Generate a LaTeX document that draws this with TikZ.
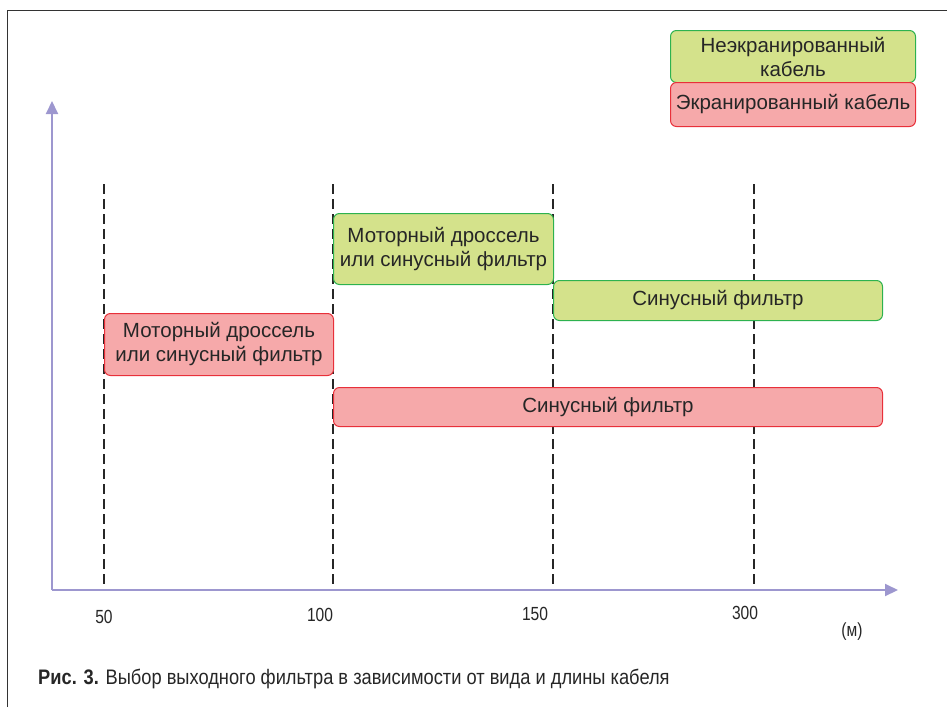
\documentclass[tikz,border=0pt]{standalone}
\usepackage{fontspec}
\setmainfont{Liberation Sans}
\newfontfamily\condfont[FakeStretch=0.87]{Liberation Sans}
\newfontfamily\tickfont[FakeStretch=0.82]{Liberation Sans}
\usetikzlibrary{arrows.meta}
\definecolor{gfill}{HTML}{D4E28B}
\definecolor{gdraw}{HTML}{2DB24F}
\definecolor{rfill}{HTML}{F6A9AA}
\definecolor{rdraw}{HTML}{E8303A}
\definecolor{axiscol}{HTML}{9D97CF}
\definecolor{framecol}{HTML}{333333}
\tikzset{
  box/.style={rounded corners=6pt, line width=1pt, align=center, inner sep=0pt,
    font=\fontsize{20.5}{24}\selectfont, text=black!85},
  gbox/.style={box, fill=gfill, draw=gdraw},
  rbox/.style={box, fill=rfill, draw=rdraw},
  axisline/.style={axiscol, line width=2pt, -{Triangle[length=13pt,width=12pt]}},
  vdash/.style={black!85, line width=2.5pt, dash pattern=on 10pt off 5pt},
  ticklab/.style={font=\tickfont\fontsize{19}{21}\selectfont, text=black!85},
}
\begin{document}
\begin{tikzpicture}[x=1pt,y=-1pt]
\useasboundingbox (0,0) rectangle (947,707);
% frame
\draw[framecol, line width=1.5pt] (7.5,707) -- (7.5,10.5) -- (947,10.5);
% dashed lines
\foreach \xx/\nm in {104/d1,333/d2,553/d3,754/d4}{
  \coordinate (\nm t) at (\xx,184);
  \coordinate (\nm b) at (\xx,590);
  \draw[vdash] (\nm t) -- (\nm b);
}
% axes
\coordinate (o) at (52,590);
\coordinate (ytip) at (52,101);
\coordinate (xtip) at (898,590);
\draw[axisline] (o) -- (ytip);
\draw[axisline] (o) -- (xtip);
% boxes
\node[gbox, minimum width=245pt, minimum height=52pt, anchor=north west] (leg1) at (670,30) {Неэкранированный\\кабель};
\node[rbox, minimum width=245pt, minimum height=44pt, anchor=north west] (leg2) at (670,82) {Экранированный кабель};
\node[gbox, minimum width=220pt, minimum height=71pt, anchor=north west] (g1) at (333,213) {Моторный дроссель\\или синусный фильтр};
\node[gbox, minimum width=329pt, minimum height=40pt, anchor=north west] (g2) at (553,280) {Синусный фильтр};
\node[rbox, minimum width=229pt, minimum height=62pt, anchor=north west] (r1) at (104,313) {Моторный дроссель\\или синусный фильтр};
\node[rbox, minimum width=549pt, minimum height=39pt, anchor=north west] (r2) at (333,387) {Синусный фильтр};
% tick labels
\node[ticklab] (l50) at (104,617) {50};
\node[ticklab] (l100) at (320,615) {100};
\node[ticklab] (l150) at (535,614) {150};
\node[ticklab] (l300) at (745,613) {300};
\node[ticklab] (lm) at (852,632) {(м)};
% caption
\node[anchor=west, inner sep=0pt, font=\condfont\fontsize{21}{24}\selectfont, text=black!85] (cap) at (38,679) {\textbf{Рис. 3.} Выбор выходного фильтра в зависимости от вида и длины кабеля};
\end{tikzpicture}
\end{document}
